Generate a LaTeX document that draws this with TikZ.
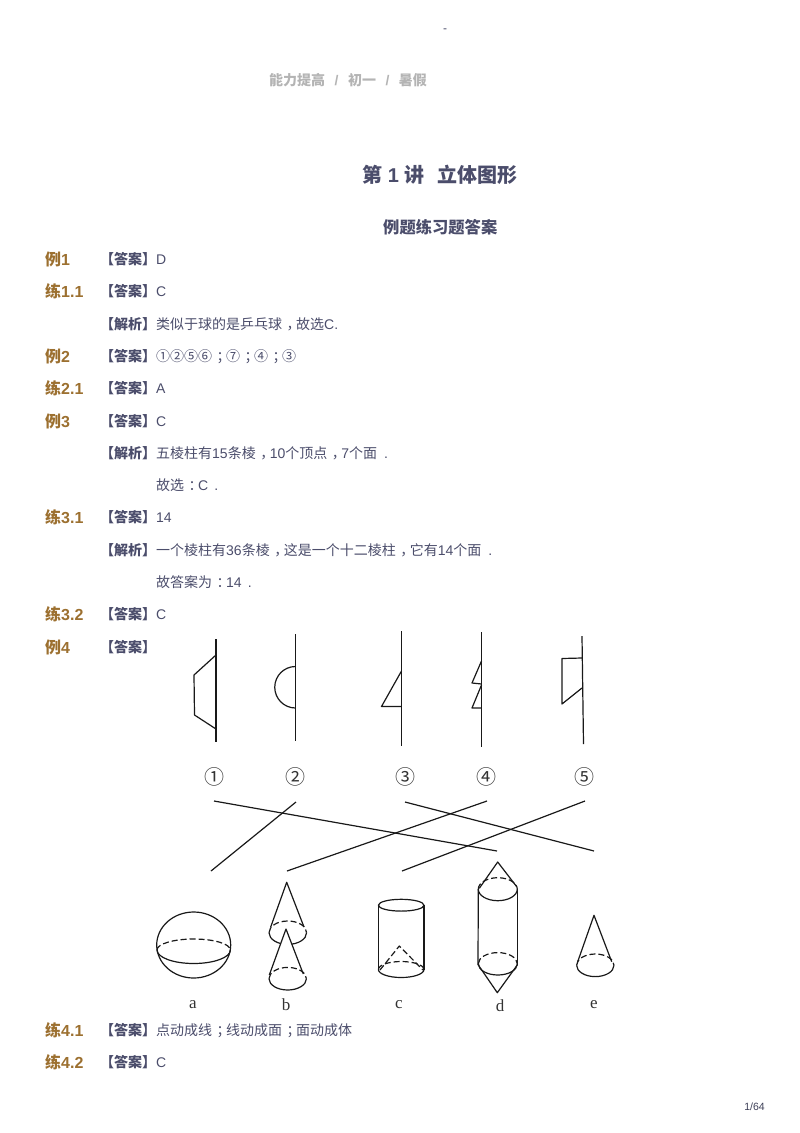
\documentclass[tikz,border=0pt]{standalone}
\usepackage{fontspec}
\setmainfont{Liberation Sans}
\newfontfamily\cjk{Noto Sans CJK SC}
\newfontfamily\figserif{Liberation Serif}
\newcommand{\zh}[1]{{\cjk #1}}
\newcommand{\zp}[1]{\hspace{4.5pt}{\cjk #1}\hspace{-4.5pt}}
\definecolor{tagbrown}{HTML}{9C7030}
\definecolor{inkblue}{HTML}{4B4D6B}
\definecolor{headgray}{HTML}{B4B4B4}
\tikzset{
  rowtag/.style={anchor=base west,inner sep=0pt,text=tagbrown,font=\fontsize{16}{18}\selectfont\bfseries},
  rowkey/.style={anchor=base west,inner sep=0pt,text=inkblue,font=\fontsize{14}{16}\selectfont\bfseries},
  rowtext/.style={anchor=base west,inner sep=0pt,text=inkblue,font=\fontsize{14}{16}\selectfont},
  figlabel/.style={inner sep=0pt,text=black!80,font=\fontsize{17}{19}\selectfont\figserif},
  fignum/.style={inner sep=0pt,text=black!80,font=\fontsize{20}{22}\selectfont\cjk},
  figline/.style={line width=1.2pt,black!90,line join=round},
  hidden/.style={figline,dash pattern=on 6pt off 3pt}
}
\begin{document}
\begin{tikzpicture}[x=1pt,y=-1pt]
\useasboundingbox (0,0) rectangle (800,1133);

% Page head
\node[inner sep=0pt,text=inkblue,font=\fontsize{12}{14}\selectfont] (headdash) at (445,31) {-};
\node[anchor=base west,inner sep=0pt,text=headgray,font=\fontsize{14}{16}\selectfont\bfseries] (headline) at (269,85)
  {\zh{能力提高}\hspace{9.5pt}/\hspace{9.5pt}\zh{初一}\hspace{9.5pt}/\hspace{9.5pt}\zh{暑假}};
\node[anchor=base west,inner sep=0pt,text=inkblue,font=\fontsize{20}{24}\selectfont\bfseries] (title) at (362,182)
  {\zh{第} 1 \zh{讲}\hspace{13pt}\zh{立体图形}};
\node[anchor=base west,inner sep=0pt,text=inkblue,font=\fontsize{16.3}{18}\selectfont\bfseries] (subtitle) at (383,233) {\zh{例题练习题答案}};

% Answer rows
\node[rowtag] (tagA) at (45,265) {\zh{例}1};
\node[rowkey] (keyA) at (100,264) {\zh{【答案】}};
\node[rowtext] (textA) at (156,264) {D};
\node[rowtag] (tagB) at (45,297) {\zh{练}1.1};
\node[rowkey] (keyB) at (100,296) {\zh{【答案】}};
\node[rowtext] (textB) at (156,296) {C};
\node[rowkey] (keyC) at (100,329) {\zh{【解析】}};
\node[rowtext] (textC) at (156,329) {\zh{类似于球的是乒乓球}\zp{，}\zh{故选}C.};
\node[rowtag] (tagD) at (45,362) {\zh{例}2};
\node[rowkey] (keyD) at (100,361) {\zh{【答案】}};
\node[rowtext] (textD) at (156,361) {\zh{①②⑤⑥}\zp{；}\zh{⑦}\zp{；}\zh{④}\zp{；}\zh{③}};
\node[rowtag] (tagE) at (45,394) {\zh{练}2.1};
\node[rowkey] (keyE) at (100,393) {\zh{【答案】}};
\node[rowtext] (textE) at (156,393) {A};
\node[rowtag] (tagF) at (45,427) {\zh{例}3};
\node[rowkey] (keyF) at (100,426) {\zh{【答案】}};
\node[rowtext] (textF) at (156,426) {C};
\node[rowkey] (keyG) at (100,458) {\zh{【解析】}};
\node[rowtext] (textG) at (156,458) {\zh{五棱柱有}15\zh{条棱}\zp{，}10\zh{个顶点}\zp{，}7\zh{个面}\hspace{7pt}.};
\node[rowtext] (textH) at (156,490) {\zh{故选}\zp{：}C\hspace{6pt}.};
\node[rowtag] (tagI) at (45,523) {\zh{练}3.1};
\node[rowkey] (keyI) at (100,522) {\zh{【答案】}};
\node[rowtext] (textI) at (156,522) {14};
\node[rowkey] (keyJ) at (100,555) {\zh{【解析】}};
\node[rowtext] (textJ) at (156,555) {\zh{一个棱柱有}36\zh{条棱}\zp{，}\zh{这是一个十二棱柱}\zp{，}\zh{它有}14\zh{个面}\hspace{7pt}.};
\node[rowtext] (textK) at (156,587) {\zh{故答案为}\zp{：}14\hspace{6pt}.};
\node[rowtag] (tagL) at (45,620) {\zh{练}3.2};
\node[rowkey] (keyL) at (100,619) {\zh{【答案】}};
\node[rowtext] (textL) at (156,619) {C};
\node[rowtag] (tagM) at (45,653) {\zh{例}4};
\node[rowkey] (keyM) at (100,652) {\zh{【答案】}};
\node[rowtag] (tagN) at (45,1036) {\zh{练}4.1};
\node[rowkey] (keyN) at (100,1035) {\zh{【答案】}};
\node[rowtext] (textN) at (156,1035) {\zh{点动成线}\zp{；}\zh{线动成面}\zp{；}\zh{面动成体}};
\node[rowtag] (tagO) at (45,1068) {\zh{练}4.2};
\node[rowkey] (keyO) at (100,1067) {\zh{【答案】}};
\node[rowtext] (textO) at (156,1067) {C};

% Plane figures on their axes
\draw[figline] (216,639) -- (216,741.5);
\draw[figline] (216,655) -- (194,675) -- (194.5,715) -- (216,729);
\draw[figline] (295.5,634) -- (295.5,741);
\draw[figline] (295.5,666.5) arc[start angle=270,end angle=90,radius=20.75];
\draw[figline] (401.5,631) -- (401.5,746);
\draw[figline] (401.5,671) -- (381.5,706.5) -- (401.5,706.5);
\draw[figline] (481.5,632) -- (481.5,747);
\draw[figline] (481.5,661) -- (472,683) -- (481.5,684);
\draw[figline] (481.5,685) -- (472,708) -- (481.5,708);
\draw[figline] (582,636) -- (583.5,744);
\draw[figline] (582,658) -- (562,658.5) -- (562,704) -- (582,688);

% Numbers under the axes
\node[fignum] (numA) at (214,777) {①};
\node[fignum] (numB) at (295,777) {②};
\node[fignum] (numC) at (405,777) {③};
\node[fignum] (numD) at (486,777) {④};
\node[fignum] (numE) at (584,777) {⑤};

% Matching lines
\draw[figline] (214,801) -- (497,851);
\draw[figline] (296,802) -- (211,871);
\draw[figline] (487,801) -- (287,871);
\draw[figline] (405,802) -- (594,851);
\draw[figline] (585,801) -- (402,871);

% a: sphere
\draw[figline] (193.7,945) ellipse[x radius=37,y radius=33];
\draw[figline] (157,950) arc[start angle=180,end angle=0,x radius=36.7,y radius=13.5];
\draw[hidden] (157,950) arc[start angle=180,end angle=360,x radius=36.7,y radius=11];

% b: two cones
\draw[figline] (269,932.7) arc[start angle=180,end angle=0,x radius=18.8,y radius=11.7];
\draw[hidden] (269,932.7) arc[start angle=180,end angle=360,x radius=18.8,y radius=11.7];
\draw[figline] (270.7,927) -- (286.7,882.3) -- (304,927);
\draw[figline,fill=white] (269.3,975) -- (286,929) -- (303.3,974);
\draw[figline] (269,978.7) arc[start angle=180,end angle=0,x radius=18.7,y radius=11.3];
\draw[hidden] (269,978.7) arc[start angle=180,end angle=360,x radius=18.7,y radius=11.3];

% c: cylinder with inner cone
\draw[figline] (401.2,905.2) ellipse[x radius=22.8,y radius=5.9];
\draw[figline] (378.4,905.2) -- (378.4,970);
\draw[figline] (424,905.2) -- (424,970);
\draw[figline] (378.4,969.5) arc[start angle=180,end angle=0,x radius=22.8,y radius=8];
\draw[hidden] (378.4,969.5) arc[start angle=180,end angle=360,x radius=22.8,y radius=8];
\draw[hidden] (380,970) -- (399.3,946) -- (423,970);

% d: cylinder with two end cones
\draw[figline] (478.3,889.2) arc[start angle=180,end angle=0,x radius=19.5,y radius=11.5];
\draw[hidden] (478.3,889.2) arc[start angle=180,end angle=360,x radius=19.5,y radius=11.5];
\draw[figline] (479.3,888.3) -- (497.7,862) -- (516.7,886.7);
\draw[figline] (478.3,889) -- (478,965);
\draw[figline] (517.3,889) -- (517.3,965);
\draw[figline] (478.3,963.8) arc[start angle=180,end angle=0,x radius=19.5,y radius=11.2];
\draw[hidden] (478.3,963.8) arc[start angle=180,end angle=360,x radius=19.5,y radius=11.2];
\draw[figline] (478.3,965) -- (497.3,992.7) -- (517.3,965);

% e: cone
\draw[figline] (577.7,961.7) -- (594,915.3) -- (611.7,961.7);
\draw[figline] (576.6,965.3) arc[start angle=180,end angle=0,x radius=18.7,y radius=11.3];
\draw[hidden] (576.6,965.3) arc[start angle=180,end angle=360,x radius=18.7,y radius=11.3];

% Solid names
\node[figlabel] (nameA) at (193,1005) {a};
\node[figlabel] (nameB) at (286,1005) {b};
\node[figlabel] (nameC) at (399,1005) {c};
\node[figlabel] (nameD) at (500,1006) {d};
\node[figlabel] (nameE) at (594,1005) {e};

% Page number
\node[anchor=base east,inner sep=0pt,text=inkblue!80!black,font=\fontsize{10.5}{12}\selectfont] (pagenum) at (765,1110) {1/64};
\end{tikzpicture}
\end{document}
